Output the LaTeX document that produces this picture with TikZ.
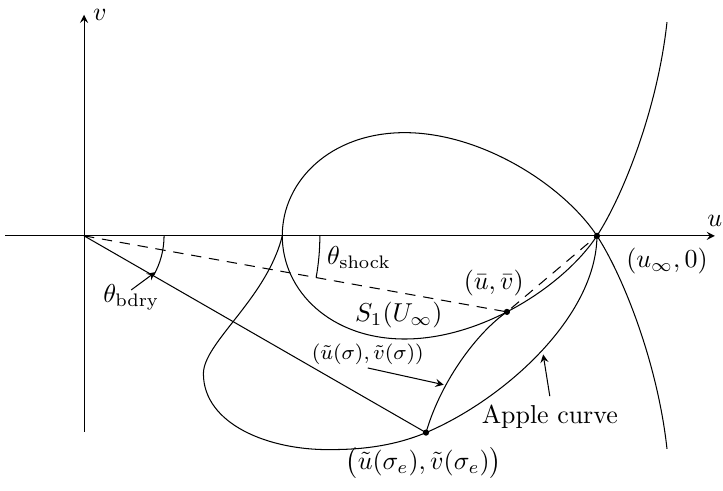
\documentclass[tikz,border=0pt]{standalone}
\usepackage{amsmath}
\usetikzlibrary{angles}

\begin{document}
\begin{tikzpicture}[scale=1, >=stealth]
  \useasboundingbox (-1.14,-3.45) rectangle (8.67,3.20);

  % Axes
  \draw[->] (-1.07,0) -- (8.56,0) node[above] (lu) {$u$};
  \draw[->] (0,-2.66) -- (0,3.0) node[right] (lv) {$v$};

  % Define coordinates
  \coordinate (O) at (0,0);
  \coordinate (X) at (1,0);
  \coordinate (P) at (6.96,0);
  \coordinate (E) at (4.64,-2.67);

  % Shock polar S_1(U_infty), B lies on its lower loop
  \draw (7.91,2.90) .. controls (7.78,1.7) and (7.30,0.52) .. (P)
    .. controls (6.51,-0.68) and (5.4,-1.40) .. (4.35,-1.40) coordinate[pos=0.55] (B)
    .. controls (3.35,-1.40) and (2.69,-0.75) .. (2.69,0)
    .. controls (2.69,0.75) and (3.35,1.40) .. (4.35,1.40)
    .. controls (5.4,1.40) and (6.51,0.68) .. (P)
    .. controls (7.30,-0.52) and (7.78,-1.7) .. (7.91,-2.89);

  % Apple curve
  \draw (2.69,0) .. controls (2.48,-0.85) and (1.62,-1.45) .. (1.62,-1.87)
    .. controls (1.62,-2.55) and (2.5,-2.92) .. (3.38,-2.90)
    .. controls (3.8,-2.90) and (4.24,-2.84) .. (E)
    .. controls (5.7,-2.22) and (6.95,-1.1) .. (P);

  % Curve (u(sigma), v(sigma))
  \draw (E) .. controls (4.85,-1.95) and (5.35,-1.3) .. (B);

  % Lines from the origin
  \draw (O) -- (E);
  \draw[dash pattern=on 4pt off 3pt] (O) -- (B) -- (P);

  % Angles
  \pic[draw, angle radius=1.086cm] {angle = E--O--X};
  \pic[draw, angle radius=3.2cm] {angle = B--O--X};

  % Points
  \fill (P) circle (1.2pt);
  \fill (B) circle (1.2pt);
  \fill (E) circle (1.2pt);

  % Labels
  \node (lshock) at (3.73,-0.30) {$\theta_{\text{shock}}$};
  \node (lbdry) at (0.64,-0.84) {$\theta_{\text{bdry}}$};
  \node (lbar) at (5.56,-0.64) {$(\bar u, \bar v)$};
  \node (lS) at (4.27,-1.07) {$S_1(U_\infty)$};
  \node[font=\footnotesize, inner sep=1pt] (lsigma) at (3.85,-1.61) {$(\tilde u(\sigma), \tilde v(\sigma))$};
  \node (lapple) at (6.32,-2.46) {Apple curve};
  \node (linf) at (7.91,-0.34) {$(u_\infty, 0)$};
  \node (lsige) at (4.61,-3.08) {$\bigl(\tilde u(\sigma_e), \tilde v(\sigma_e)\bigr)$};

  % Arrows to the curves
  \coordinate (bdrytip) at (-27:1.086);
  \coordinate (sigmatip) at (4.88,-2.02);
  \coordinate (appletip) at (6.23,-1.61);
  \draw[->] ([yshift=3pt]lbdry.center) -- (bdrytip);
  \draw[->] (lsigma.south) -- (sigmatip);
  \draw[->] (lapple.north) -- (appletip);

\end{tikzpicture}
\end{document}
